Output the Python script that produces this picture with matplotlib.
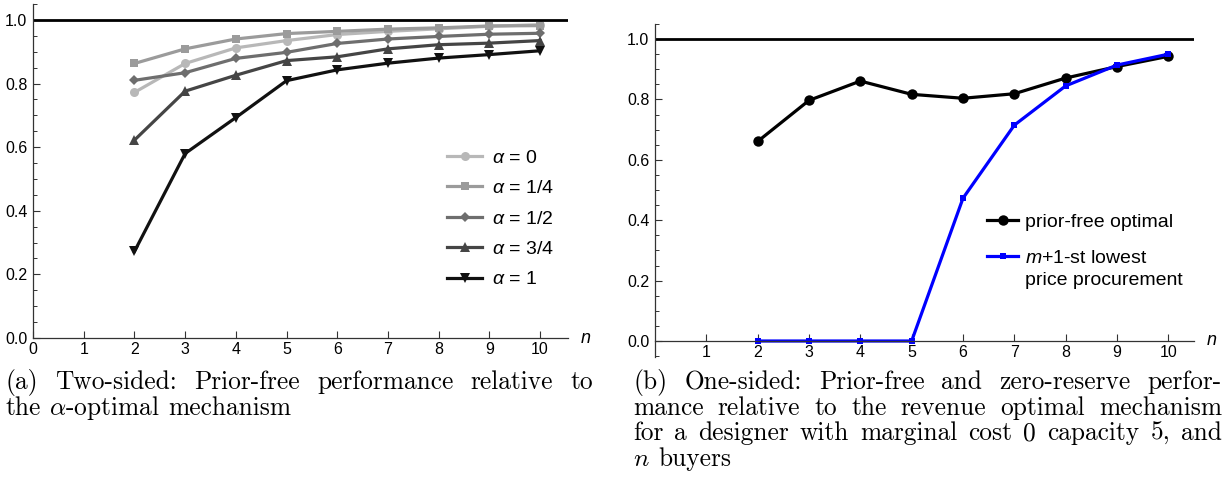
import matplotlib
matplotlib.use('Agg')
import matplotlib.pyplot as plt
from matplotlib.ticker import MultipleLocator, FormatStrFormatter, FixedLocator

# ---------------- data ----------------
n_vals = [2, 3, 4, 5, 6, 7, 8, 9, 10]
alpha_labels = [r'$\alpha$ = 0', r'$\alpha$ = 1/4', r'$\alpha$ = 1/2', r'$\alpha$ = 3/4', r'$\alpha$ = 1']
alpha_0 = [0.772, 0.863, 0.912, 0.935, 0.954, 0.964, 0.972, 0.980, 0.985]
alpha_14 = [0.863, 0.909, 0.940, 0.957, 0.964, 0.971, 0.975, 0.981, 0.982]
alpha_12 = [0.810, 0.834, 0.879, 0.898, 0.926, 0.940, 0.948, 0.955, 0.958]
alpha_34 = [0.622, 0.776, 0.826, 0.872, 0.884, 0.909, 0.922, 0.927, 0.935]
alpha_1 = [0.272, 0.580, 0.693, 0.809, 0.843, 0.864, 0.880, 0.891, 0.903]

right_labels = ['prior-free optimal', '$m$+1-st lowest']
right_label_extra = 'price procurement'
prior_free = [0.661, 0.797, 0.861, 0.817, 0.804, 0.819, 0.871, 0.909, 0.943]
zero_reserve = [0.0, 0.0, 0.0, 0.0, 0.473, 0.715, 0.845, 0.914, 0.950]

left_xticks = [0, 1, 2, 3, 4, 5, 6, 7, 8, 9, 10]
right_xticks = [1, 2, 3, 4, 5, 6, 7, 8, 9, 10]

caption_a = ["(a) Two-sided: Prior-free performance relative to",
             r"the $\alpha$-optimal mechanism"]
caption_b = ["(b) One-sided: Prior-free and zero-reserve perfor-",
             "mance relative to the revenue optimal mechanism",
             "for a designer with marginal cost 0 capacity 5, and",
             r"$n$ buyers"]

# ---------------- style ----------------
plt.rcParams['font.family'] = ['Liberation Sans', 'DejaVu Sans']
plt.rcParams['mathtext.fontset'] = 'custom'
plt.rcParams['mathtext.it'] = 'Liberation Sans:italic'
plt.rcParams['mathtext.rm'] = 'Liberation Sans'

W, H = 1225, 494
fig = plt.figure(figsize=(W / 100, H / 100), dpi=100)

def px_axes(x0, x1, ytop, ybot):
    return fig.add_axes([x0 / W, (H - ybot) / H, (x1 - x0) / W, (ybot - ytop) / H])

axis_col = '#333333'
tick_fs = 11.5
leg_fs = 14

# ---------------- left panel ----------------
axL = px_axes(33, 568, 4, 338)
axL.set_xlim(0, 10.55)
axL.set_ylim(0, 1.05)
series = [alpha_0, alpha_14, alpha_12, alpha_34, alpha_1]
colors = ['#b8b8b8', '#9b9b9b', '#6e6e6e', '#454545', '#111111']
markers = ['o', 's', 'D', '^', 'v']
msizes = [6.5, 5.5, 5.5, 6.5, 7]
for vals, c, m, ms, lab in zip(series, colors, markers, msizes, alpha_labels):
    axL.plot(n_vals, vals, color=c, marker=m, ms=ms, lw=2.3, label=lab,
             markeredgewidth=0)
axL.axhline(1.0, color='black', lw=2)
axL.spines['top'].set_visible(False)
axL.spines['right'].set_visible(False)
for s in ('left', 'bottom'):
    axL.spines[s].set_color(axis_col)
    axL.spines[s].set_linewidth(0.9)
axL.xaxis.set_major_locator(FixedLocator(left_xticks))
axL.yaxis.set_major_locator(MultipleLocator(0.2))
axL.yaxis.set_minor_locator(MultipleLocator(0.05))
axL.yaxis.set_major_formatter(FormatStrFormatter('%.1f'))
axL.tick_params(direction='in', length=5, width=0.8, color=axis_col,
                labelsize=tick_fs, pad=4)
axL.tick_params(axis='x', pad=3)
axL.tick_params(which='minor', direction='in', length=3, width=0.7, color=axis_col)
axL.text(10.8, 0.0, 'n', fontstyle='italic', fontsize=13, ha='left', va='center',
         clip_on=False)
legL = axL.legend(loc='upper left', bbox_to_anchor=(447 / W, (H - 149) / H),
                  bbox_transform=fig.transFigure, frameon=False, fontsize=leg_fs,
                  handlelength=1.8, handletextpad=0.5, labelspacing=0.66,
                  borderpad=0, borderaxespad=0)

# ---------------- right panel ----------------
axR = px_axes(655, 1194, 24, 357)
axR.set_xlim(0, 10.5)
axR.set_ylim(-0.053, 1.05)
axR.plot(n_vals, prior_free, color='black', marker='o', ms=7.5, lw=2.3,
         label=right_labels[0], markeredgewidth=0)
axR.plot(n_vals, zero_reserve, color='#0000ff', marker='s', ms=4.5, lw=2.3,
         label=right_labels[1], markeredgewidth=0)
axR.axhline(1.0, color='black', lw=2)
axR.spines['top'].set_visible(False)
axR.spines['right'].set_visible(False)
axR.spines['bottom'].set_position(('data', 0))
for s in ('left', 'bottom'):
    axR.spines[s].set_color(axis_col)
    axR.spines[s].set_linewidth(0.9)
axR.xaxis.set_major_locator(FixedLocator(right_xticks))
axR.yaxis.set_major_locator(MultipleLocator(0.2))
axR.yaxis.set_minor_locator(MultipleLocator(0.05))
axR.yaxis.set_major_formatter(FormatStrFormatter('%.1f'))
axR.tick_params(direction='in', length=5, width=0.8, color=axis_col,
                labelsize=tick_fs, pad=4)
axR.tick_params(axis='x', pad=3)
axR.tick_params(which='minor', direction='in', length=3, width=0.7, color=axis_col)
axR.text(10.75, 0.0, 'n', fontstyle='italic', fontsize=13, ha='left', va='center',
         clip_on=False)
legR = axR.legend(loc='upper left', bbox_to_anchor=(987 / W, (H - 213) / H),
                  bbox_transform=fig.transFigure, frameon=False, fontsize=leg_fs,
                  handlelength=1.6, handletextpad=0.35, labelspacing=0.95,
                  borderpad=0, borderaxespad=0)

renderer = fig.canvas.get_renderer()
fig.canvas.draw()
t2 = legR.get_texts()[1]
bb = t2.get_window_extent(renderer)
fig.text(bb.x0 / W, (bb.y0 - 22) / H, right_label_extra, fontsize=leg_fs,
         ha='left', va='bottom')

# ---------------- captions (justified) ----------------
cap_fs = 18.3

def draw_line(text, x0, x1, ybase, justify):
    words = text.split(' ')
    objs = []
    widths = []
    for w in words:
        t = fig.text(0, 0, w, fontsize=cap_fs, family='cmr10', math_fontfamily='cm',
                     ha='left', va='baseline')
        objs.append(t)
        widths.append(t.get_window_extent(renderer).width)
    space = cap_fs * 100 / 72 * 0.333
    if justify and len(words) > 1:
        gap = (x1 - x0 - sum(widths)) / (len(words) - 1)
    else:
        gap = space
    x = x0
    for t, wd in zip(objs, widths):
        t.set_position((x / W, (H - ybase) / H))
        x += wd + gap

def draw_caption(lines, x0, x1, y0, dy):
    for i, ln in enumerate(lines):
        draw_line(ln, x0, x1, y0 + i * dy, justify=(i < len(lines) - 1))

draw_caption(caption_a, 5, 593, 389, 25.5)
draw_caption(caption_b, 633, 1222, 389, 25.5)

fig.savefig('out.png', dpi=100)
